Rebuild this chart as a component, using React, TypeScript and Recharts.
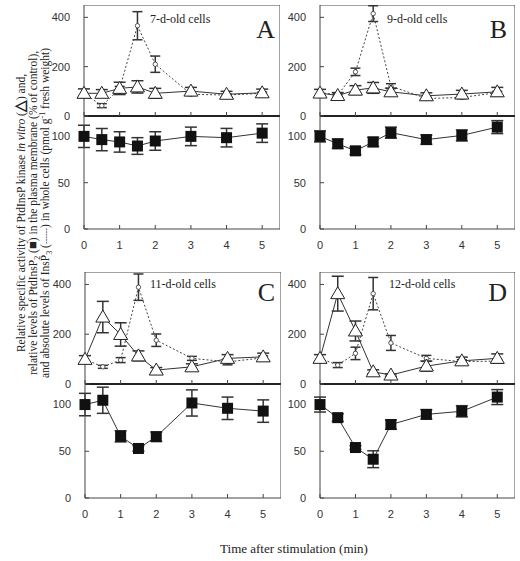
import React from "react";
import { ComposedChart, Line, XAxis, YAxis, ErrorBar, ReferenceLine } from "recharts";

const minutes = [0, 0.5, 1, 1.5, 2, 3, 4, 5];
const timeTicks = [0, 1, 2, 3, 4, 5];
const upperTicks = [0, 200, 400];
const lowerTicks = [0, 50, 100];

// PtdInsP kinase (triangles), InsP3 (dotted, circles), PtdInsP2 (squares)
const kinaseA = [92, 92, 112, 118, 92, 101, 88, 94];
const kinaseErrA = [18, 15, 25, 25, 20, 15, 12, 15];
const insp3A = [92, 42, 110, 366, 210, 88, 85, 92];
const insp3ErrA = [0, 8, 10, 57, 33, 5, 5, 5];
const pip2A = [100, 96.5, 94, 89.6, 95, 100, 98.6, 103.5];
const pip2ErrA = [12, 12, 11, 9, 10, 10, 10, 10];

const kinaseB = [93, 83, 105, 114, 98, 82, 89, 98];
const kinaseErrB = [15, 12, 18, 22, 15, 12, 15, 18];
const insp3B = [95, 85, 179, 415, 121, 71, 75, 95];
const insp3ErrB = [0, 5, 15, 32, 10, 5, 5, 5];
const pip2B = [100, 92, 84.4, 94, 104, 96.5, 101, 110];
const pip2ErrB = [6, 5, 4, 5, 6, 5, 6, 7];

const kinaseC = [99, 269, 199, 113, 56, 69, 103, 109];
const kinaseErrC = [15, 63, 47, 20, 10, 12, 15, 15];
const insp3C = [99, 69, 96, 389, 176, 103, 89, 105];
const insp3ErrC = [0, 6, 10, 53, 25, 8, 12, 8];
const pip2C = [100, 104.6, 66, 53, 65.6, 101.7, 96, 93];
const pip2ErrC = [12, 14, 6, 3, 5, 14, 12, 12];

const kinaseD = [103, 363, 213, 49, 36, 72, 93, 103];
const kinaseErrD = [15, 70, 40, 8, 5, 20, 15, 18];
const insp3D = [103, 76, 123, 363, 165, 103, 90, 92];
const insp3ErrD = [0, 10, 25, 65, 30, 12, 8, 8];
const pip2D = [100, 86, 54, 41.5, 78.6, 89.5, 92.8, 108];
const pip2ErrD = [8, 4, 2, 9, 5, 5, 6, 8];

const ink = "#333";
const frame = "#444";
const tickFont = { fontSize: 11, fill: "#333", fontFamily: "'Liberation Sans', Arial, sans-serif" };
const serif = "'Liberation Serif', 'Times New Roman', serif";

const triangle = (p: any) => (
  <path
    key={`t-${p.index}`}
    d={`M${p.cx},${p.cy - 7} L${p.cx + 7},${p.cy + 5} L${p.cx - 7},${p.cy + 5} Z`}
    fill="#fff"
    stroke="#222"
  />
);
const circle = (p: any) => (
  <circle key={`c-${p.index}`} cx={p.cx} cy={p.cy} r={2.2} fill="#fff" stroke="#333" strokeWidth={0.8} />
);
const square = (p: any) => (
  <rect key={`s-${p.index}`} x={p.cx - 5.5} y={p.cy - 5.5} width={11} height={11} fill="#111" />
);

type PanelProps = {
  left: number;
  top: number;
  plotW: number;
  upperH: number;
  lowerH: number;
  kinase: number[];
  kinaseErr: number[];
  insp3: number[];
  insp3Err: number[];
  pip2: number[];
  pip2Err: number[];
};

const AXW = 40;
const PAD = 8; // room under the upper plot so its "0" label is not clipped

function Panel(props: PanelProps) {
  const { left, top, plotW, upperH, lowerH } = props;
  const rows = minutes.map((t, i) => ({
    t,
    kinase: props.kinase[i],
    kErr: props.kinaseErr[i],
    insp3: props.insp3[i],
    iErr: props.insp3Err[i],
    pip2: props.pip2[i],
    pErr: props.pip2Err[i],
  }));
  const m = { top: 0, right: 0, bottom: 0, left: 0 };
  return (
    <>
      <div style={{ position: "absolute", left: left - AXW, top }}>
        <ComposedChart width={AXW + plotW} height={upperH + PAD} data={rows} margin={m}>
          <XAxis
            dataKey="t"
            type="number"
            domain={[0, 5.5]}
            ticks={timeTicks}
            height={PAD}
            tickSize={-4}
            tickFormatter={() => ""}
            axisLine={{ stroke: "#222", strokeWidth: 2 }}
            tickLine={{ stroke: frame }}
          />
          <YAxis
            type="number"
            domain={[0, 450]}
            ticks={upperTicks}
            interval={0}
            width={AXW}
            tickSize={-4}
            tickMargin={18}
            tick={tickFont}
            axisLine={{ stroke: frame }}
            tickLine={{ stroke: frame }}
          />
          <ReferenceLine x={5.5} stroke={frame} strokeWidth={1} />
          <ReferenceLine y={450} stroke={frame} strokeWidth={1} />
          <Line
            dataKey="insp3"
            stroke="#444"
            strokeDasharray="2 2"
            dot={circle}
            activeDot={false}
            isAnimationActive={false}
          >
            <ErrorBar dataKey="iErr" direction="y" width={5} stroke={ink} />
          </Line>
          <Line dataKey="kinase" stroke="#333" dot={triangle} activeDot={false} isAnimationActive={false}>
            <ErrorBar dataKey="kErr" direction="y" width={6} stroke={ink} />
          </Line>
        </ComposedChart>
      </div>
      <div style={{ position: "absolute", left: left - AXW, top: top + upperH }}>
        <ComposedChart width={AXW + plotW} height={lowerH + 30} data={rows} margin={m}>
          <XAxis
            dataKey="t"
            type="number"
            domain={[0, 5.5]}
            ticks={timeTicks}
            interval={0}
            height={30}
            tickSize={-4}
            tickMargin={16}
            tick={tickFont}
            axisLine={{ stroke: frame }}
            tickLine={{ stroke: frame }}
          />
          <YAxis
            type="number"
            domain={[0, 122]}
            ticks={lowerTicks}
            interval={0}
            width={AXW}
            tickSize={-4}
            tickMargin={18}
            tick={tickFont}
            axisLine={{ stroke: frame }}
            tickLine={{ stroke: frame }}
          />
          <ReferenceLine x={5.5} stroke={frame} strokeWidth={1} />
          <Line dataKey="pip2" stroke="#333" dot={square} activeDot={false} isAnimationActive={false}>
            <ErrorBar dataKey="pErr" direction="y" width={6} stroke={ink} />
          </Line>
        </ComposedChart>
      </div>
    </>
  );
}

export default function App() {
  return (
    <div style={{ position: "absolute", left: 0, top: 0, width: 520, height: 561, background: "#fff" }}>
      <Panel left={84} top={5} plotW={196} upperH={111} lowerH={113}
        kinase={kinaseA} kinaseErr={kinaseErrA} insp3={insp3A} insp3Err={insp3ErrA} pip2={pip2A} pip2Err={pip2ErrA} />
      <Panel left={320} top={5} plotW={195} upperH={111} lowerH={113}
        kinase={kinaseB} kinaseErr={kinaseErrB} insp3={insp3B} insp3Err={insp3ErrB} pip2={pip2B} pip2Err={pip2ErrB} />
      <Panel left={85} top={272} plotW={196} upperH={112} lowerH={114}
        kinase={kinaseC} kinaseErr={kinaseErrC} insp3={insp3C} insp3Err={insp3ErrC} pip2={pip2C} pip2Err={pip2ErrC} />
      <Panel left={320} top={272} plotW={195} upperH={112} lowerH={114}
        kinase={kinaseD} kinaseErr={kinaseErrD} insp3={insp3D} insp3Err={insp3ErrD} pip2={pip2D} pip2Err={pip2ErrD} />
      <svg width={520} height={561} style={{ position: "absolute", left: 0, top: 0, pointerEvents: "none" }}>
        <g fontFamily={serif} fill="#222">
          <text x={150} y={23} fontSize={12}>7-d-old cells</text>
          <text x={387} y={23} fontSize={12}>9-d-old cells</text>
          <text x={150} y={288} fontSize={12}>11-d-old cells</text>
          <text x={389} y={288} fontSize={12}>12-d-old cells</text>
          <text x={275} y={38} fontSize={26} textAnchor="end">A</text>
          <text x={507} y={38} fontSize={26} textAnchor="end">B</text>
          <text x={275} y={301} fontSize={26} textAnchor="end">C</text>
          <text x={507} y={301} fontSize={26} textAnchor="end">D</text>
          <text x={294} y={553} fontSize={13} textAnchor="middle">Time after stimulation (min)</text>
          <text transform="translate(25,213) rotate(-90)" fontSize={11.5} textAnchor="middle">
            Relative specific activity of PtdInsP kinase <tspan fontStyle="italic">in vitro</tspan> (<tspan fontSize={15} fontWeight="bold">△</tspan>) and,
          </text>
          <text transform="translate(37,213) rotate(-90)" fontSize={11.5} textAnchor="middle">
            relative levels of PtdInsP<tspan fontSize={8} dy={3}>2</tspan><tspan dy={-3}> (</tspan><tspan fontSize={13}>■</tspan>) in the plasma membrane (% of control),
          </text>
          <text transform="translate(49,213) rotate(-90)" fontSize={11.5} textAnchor="middle">
            and absolute levels of InsP<tspan fontSize={8} dy={3}>3</tspan><tspan dy={-3}> (</tspan><tspan fontSize={8}>------</tspan>) in whole cells (pmol g<tspan fontSize={8} dy={-4}>-1</tspan><tspan dy={4}> fresh weight)</tspan>
          </text>
        </g>
      </svg>
    </div>
  );
}
